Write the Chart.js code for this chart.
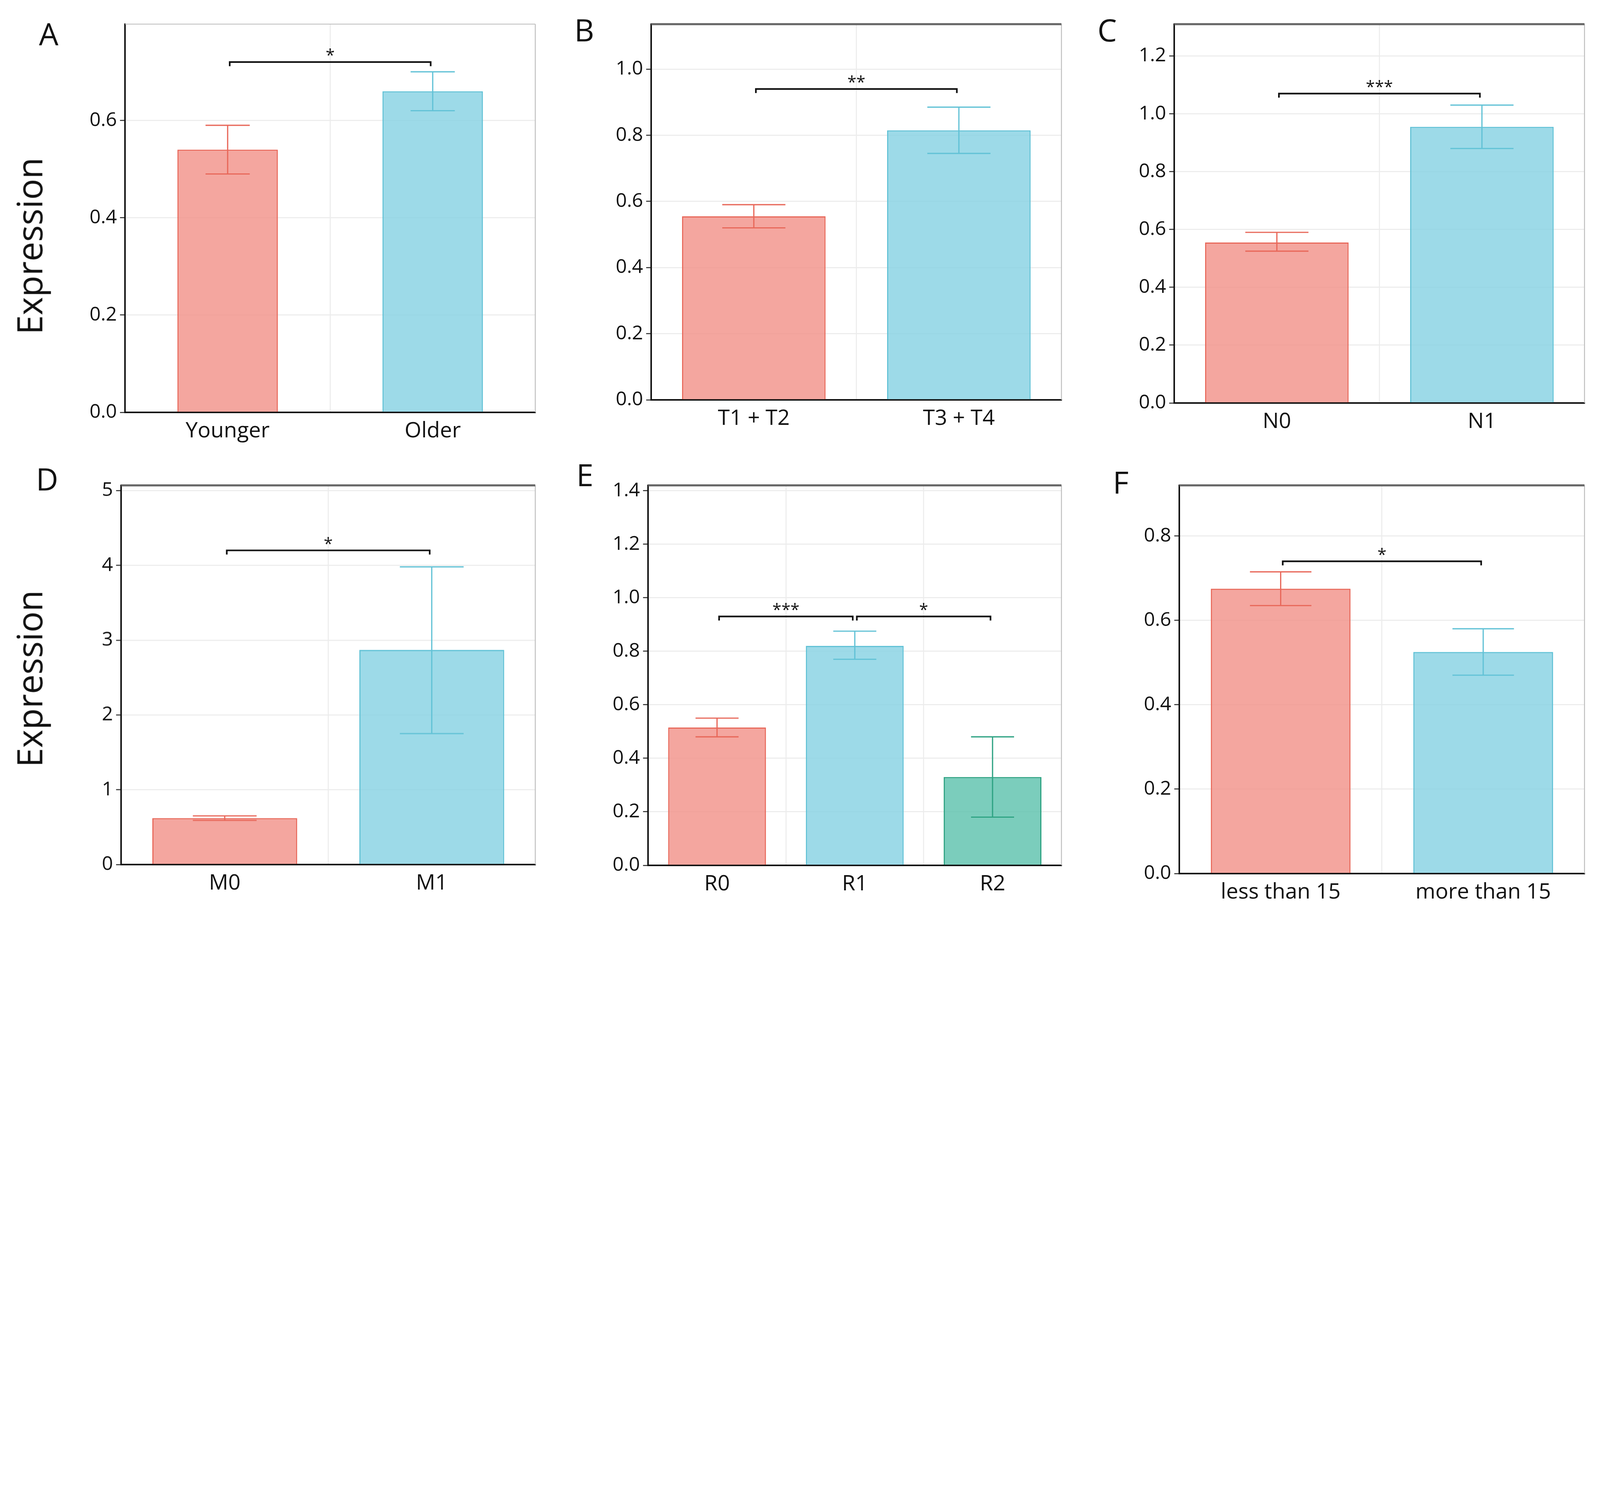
<!DOCTYPE html>
<html><head><meta charset="utf-8">
<script src="https://cdn.jsdelivr.net/npm/chart.js@4.4.1/dist/chart.umd.min.js"></script>
<style>
html,body{margin:0;background:#fff;width:100vw;height:100vh;position:relative;overflow:hidden;font-family:"Open Sans","Liberation Sans",sans-serif}
canvas{position:absolute}
.lbl{position:absolute;color:#111;font-family:"Open Sans",sans-serif;line-height:1}
</style></head><body>
<script>
// ---- data ----
const catsA=['Younger','Older'], valsA=[0.54,0.66], loA=[0.49,0.62], hiA=[0.59,0.70];
const catsB=['T1 + T2','T3 + T4'], valsB=[0.555,0.815], loB=[0.52,0.745], hiB=[0.59,0.885];
const catsC=['N0','N1'], valsC=[0.555,0.955], loC=[0.525,0.88], hiC=[0.59,1.03];
const catsD=['M0','M1'], valsD=[0.62,2.87], loD=[0.59,1.75], hiD=[0.65,3.98];
const catsE=['R0','R1','R2'], valsE=[0.515,0.82,0.33], loE=[0.48,0.77,0.18], hiE=[0.55,0.875,0.48];
const catsF=['less than 15','more than 15'], valsF=[0.675,0.525], loF=[0.635,0.47], hiF=[0.715,0.58];
const sigA=[[0,1,0.72,'*']], sigB=[[0,1,0.94,'**']], sigC=[[0,1,1.07,'***']];
const sigD=[[0,1,4.2,'*']], sigE=[[0,1,0.93,'***'],[1,2,0.93,'*']], sigF=[[0,1,0.74,'*']];

const S=window.innerWidth/1560;
const DPR=window.devicePixelRatio||1;
const FILL=['rgba(242,150,142,0.85)','rgba(140,212,228,0.85)','rgba(100,196,176,0.85)'];
const EDGE=['#E8685A','#62C2D6','#2FA383'];

const panels=[
 {L:'A',c:catsA,v:valsA,lo:loA,hi:hiA,sig:sigA,max:0.798,step:0.2,dec:1,p:[122,15,522,402],bw:0.49,lp:[38,18],top:false},
 {L:'B',c:catsB,v:valsB,lo:loB,hi:hiB,sig:sigB,max:1.136,step:0.2,dec:1,p:[635,15,1035,390],bw:0.7,lp:[560,14],top:true},
 {L:'C',c:catsC,v:valsC,lo:loC,hi:hiC,sig:sigC,max:1.31,step:0.2,dec:1,p:[1145,15,1545,393],bw:0.7,lp:[1070,14],top:true},
 {L:'D',c:catsD,v:valsD,lo:loD,hi:hiD,sig:sigD,max:5.07,step:1,dec:0,p:[118,465,522,843],bw:0.7,lp:[35,452],top:true},
 {L:'E',c:catsE,v:valsE,lo:loE,hi:hiE,sig:sigE,max:1.42,step:0.2,dec:1,p:[632,465,1035,844],bw:0.71,lp:[562,448],top:true},
 {L:'F',c:catsF,v:valsF,lo:loF,hi:hiF,sig:sigF,max:0.92,step:0.2,dec:1,p:[1150,465,1545,852],bw:0.69,lp:[1085,455],top:true}
];
const YW=90*S, XH=45*S, PT=6*S, PR=6*S;

const deco={id:'deco',
 afterDatasetsDraw(ch){
  const P=ch.options.plugins.deco.P, ctx=ch.ctx, x=ch.scales.x, y=ch.scales.y, ca=ch.chartArea;
  ctx.save();
  ctx.strokeStyle='#bbb'; ctx.lineWidth=0.8*S;
  ctx.beginPath(); ctx.moveTo(ca.right,ca.top); ctx.lineTo(ca.right,ca.bottom); ctx.stroke();
  ctx.strokeStyle=P.top?'#666':'#bbb'; ctx.lineWidth=P.top?2*S:0.8*S;
  ctx.beginPath(); ctx.moveTo(ca.left,ca.top); ctx.lineTo(ca.right,ca.top); ctx.stroke();
  const meta=ch.getDatasetMeta(0);
  P.v.forEach((v,i)=>{
   const cx=x.getPixelForValue(i), w=meta.data[i].width*0.22;
   ctx.strokeStyle=EDGE[i]; ctx.lineWidth=1.2*S;
   const yl=y.getPixelForValue(P.lo[i]), yh=y.getPixelForValue(P.hi[i]);
   ctx.beginPath(); ctx.moveTo(cx,yl); ctx.lineTo(cx,yh);
   ctx.moveTo(cx-w,yl); ctx.lineTo(cx+w,yl); ctx.moveTo(cx-w,yh); ctx.lineTo(cx+w,yh); ctx.stroke();
  });
  P.sig.forEach(([i,j,val,t])=>{
   const x1=x.getPixelForValue(i)+2*S, x2=x.getPixelForValue(j)-2*S, yy=y.getPixelForValue(val);
   ctx.strokeStyle='#111'; ctx.lineWidth=1.6*S;
   ctx.beginPath(); ctx.moveTo(x1,yy+4*S); ctx.lineTo(x1,yy); ctx.lineTo(x2,yy); ctx.lineTo(x2,yy+4*S); ctx.stroke();
   ctx.fillStyle='#111'; ctx.font=(16*S)+'px "Open Sans",sans-serif'; ctx.textAlign='center'; ctx.textBaseline='alphabetic';
   ctx.fillText(t,(x1+x2)/2,yy-1*S);
  });
  ctx.restore();
 }};

panels.forEach(P=>{
 const [l,t,r,b]=P.p;
 const cv=document.createElement('canvas');
 const left=l*S-YW, top=t*S-PT, W=(r-l)*S+YW+PR, H=(b-t)*S+PT+XH;
 cv.style.left=left+'px'; cv.style.top=top+'px'; cv.style.width=W+'px'; cv.style.height=H+'px';
 cv.width=W; cv.height=H;
 document.body.appendChild(cv);
 const d=document.createElement('div'); d.className='lbl'; d.textContent=P.L;
 d.style.left=P.lp[0]*S+'px'; d.style.top=P.lp[1]*S+'px'; d.style.fontSize=(30*S)+'px';
 document.body.appendChild(d);
 new Chart(cv,{type:'bar',
  data:{labels:P.c,datasets:[{data:P.v,backgroundColor:P.c.map((_,i)=>FILL[i]),borderColor:P.c.map((_,i)=>EDGE[i]),borderWidth:1.2*S,barPercentage:P.bw,categoryPercentage:1}]},
  options:{responsive:false,maintainAspectRatio:false,animation:false,devicePixelRatio:DPR,
   layout:{padding:{top:PT,right:PR,left:0,bottom:0}},
   plugins:{legend:{display:false},tooltip:{enabled:false},deco:{P}},
   scales:{
    x:{grid:{offset:true,color:'#ececec',lineWidth:1*S,drawTicks:false},border:{color:'#111',width:1.5*S},
       ticks:{color:'#111',font:{size:21*S,family:'"Open Sans",sans-serif'},padding:6*S},
       afterFit(s){s.height=XH;}},
    y:{min:0,max:P.max,grid:{color:'#ececec',lineWidth:1*S,tickLength:5*S,tickColor:'#333'},border:{color:'#111',width:1.5*S},
       ticks:{stepSize:P.step,color:'#111',font:{size:19*S,family:'"Open Sans",sans-serif'},padding:3*S,callback:v=>Number(v).toFixed(P.dec)},
       afterBuildTicks(s){const n=Math.floor(P.max/P.step+1e-6),a=[];for(let k=0;k<=n;k++)a.push({value:+(k*P.step).toFixed(4)});s.ticks=a;},
       afterFit(s){s.width=YW;}}
   }},
  plugins:[deco]});
});
[240,662].forEach(cy=>{
 const d=document.createElement('div'); d.className='lbl'; d.textContent='Expression';
 d.style.fontSize=(34*S)+'px'; d.style.left=(28*S)+'px'; d.style.top=(cy*S)+'px';
 d.style.transform='translate(-50%,-50%) rotate(-90deg)'; d.style.whiteSpace='nowrap';
 document.body.appendChild(d);
});
</script>
</body></html>
